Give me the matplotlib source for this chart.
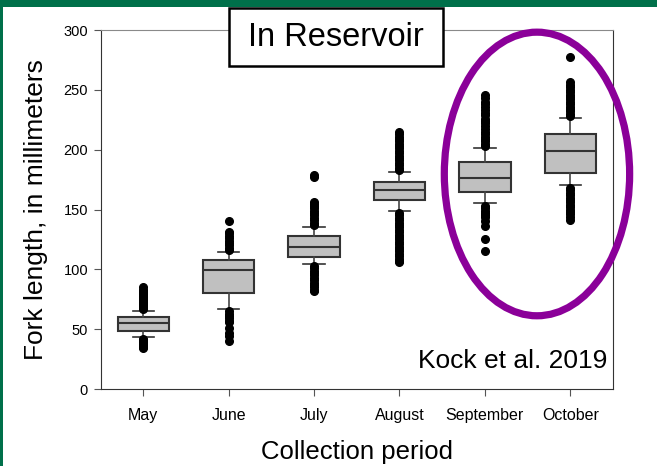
import matplotlib
matplotlib.use("Agg")
import matplotlib.pyplot as plt
from matplotlib.patches import Rectangle, Ellipse

plt.rcParams['font.family'] = ['Liberation Sans', 'DejaVu Sans']

months = ["May", "June", "July", "August", "September", "October"]

# five-number summaries (mm)
whis_lo = [43.7, 66.6, 104.7, 148.5, 155.2, 170.5]
q1 = [48.8, 80.2, 110.0, 158.0, 164.9, 180.2]
medians = [55.4, 99.2, 118.7, 166.3, 176.0, 198.9]
q3 = [60.4, 107.5, 128.1, 173.2, 190.0, 212.8]
whis_hi = [65.2, 114.7, 135.6, 181.0, 201.1, 226.2]

# individual outlying fish
fliers_may = [67, 68, 69, 70, 71, 72, 73, 74, 75, 76, 77, 78, 79, 80, 81, 82, 83, 85,
              42, 41, 40, 39, 38, 37, 36, 35, 34]
fliers_june = [116, 118, 120, 122, 124, 126, 128, 130, 131, 140,
               65, 63, 61, 59, 57, 56, 51, 47, 44, 40.5]
fliers_july = [137, 139, 141, 143, 145, 147, 149, 151, 153, 155, 156.5, 177, 179,
               103, 101, 99, 97, 95, 93, 91, 89, 87, 85, 83, 81.5]
fliers_aug = [183, 185, 187, 189, 191, 193, 195, 197, 199, 201, 203, 205, 207, 209, 211, 213, 215,
              147, 145, 143, 141, 139, 137, 135, 133, 131, 129, 127, 125, 123, 121, 119,
              117, 115, 113, 111, 109, 107, 106]
fliers_sep = [203, 205, 207, 209, 211, 213, 215, 217, 220, 222, 224, 226, 229, 231, 233, 236, 238,
              240, 243, 245.5,
              153, 151, 149, 147, 145, 144, 140, 136, 125, 115]
fliers_oct = [228, 230, 232, 234, 236, 238, 240, 242, 244, 246, 248, 250, 252, 254, 256.5, 277.5,
              168, 166, 164, 162, 160, 158, 156, 154, 152, 150, 148, 146, 144, 141.5]
fliers = [fliers_may, fliers_june, fliers_july, fliers_aug, fliers_sep, fliers_oct]

yticks = [0, 50, 100, 150, 200, 250, 300]

stats = []
for i, m in enumerate(months):
    stats.append(dict(label=m, whislo=whis_lo[i], q1=q1[i], med=medians[i],
                      q3=q3[i], whishi=whis_hi[i], fliers=fliers[i]))

fig = plt.figure(figsize=(6.57, 4.66), dpi=100)
ax = fig.add_axes([0.1531, 0.1652, 0.7799, 0.7704])

dark = "#333333"
ax.bxp(stats, positions=range(1, 7), widths=0.6, capwidths=0.25, patch_artist=True,
       boxprops=dict(facecolor="#c0c0c0", edgecolor=dark, linewidth=1.5),
       medianprops=dict(color=dark, linewidth=1.5),
       whiskerprops=dict(color="#444444", linewidth=1.2),
       capprops=dict(color=dark, linewidth=1.2),
       flierprops=dict(marker="o", markerfacecolor="black", markeredgecolor="black",
                       markersize=5.5, linestyle="none"))

ax.set_xlim(0.5, 6.5)
ax.set_ylim(0, 300)
ax.set_yticks(yticks)
ax.set_xticks(range(1, 7))
ax.set_xticklabels(months, fontsize=11.5)
ax.tick_params(axis="y", labelsize=10.5, direction="out", length=5, color="#555555", pad=4)
ax.tick_params(axis="x", direction="out", length=5, color="#555555", pad=9)
for s in ["left", "right", "bottom"]:
    ax.spines[s].set_color(dark)
ax.spines["top"].set_color("#8a8a8a")

ax.set_ylabel("Fork length, in millimeters", fontsize=19, labelpad=11)
ax.set_xlabel("Collection period", fontsize=18.5, labelpad=12)

ax.text(0.99, 0.045, "Kock et al. 2019", transform=ax.transAxes, ha="right", va="bottom",
        fontsize=19)

# highlight the autumn samples
ax.add_patch(Ellipse((5.61, 179.7), 2.17, 237, fill=False, edgecolor="#8b0099",
                     linewidth=5.2, clip_on=False, zorder=10))

# title box straddling the top of the axes
W, H = 657, 466
fig.patches.append(Rectangle((229 / W, 1 - 66 / H), 214 / W, 58 / H, transform=fig.transFigure,
                             facecolor="white", edgecolor="black", linewidth=1.8, zorder=20))
fig.text(336 / W, 1 - 38 / H, "In Reservoir", ha="center", va="center", fontsize=23.5, zorder=21)

# green frame along the top and left edges
fig.patches.append(Rectangle((0, 1 - 7 / H), 1, 7 / H, transform=fig.transFigure,
                             facecolor="#00704a", edgecolor="none", zorder=30))
fig.patches.append(Rectangle((0, 0), 3 / W, 1, transform=fig.transFigure,
                             facecolor="#00704a", edgecolor="none", zorder=30))

fig.savefig("out.png", dpi=100)
